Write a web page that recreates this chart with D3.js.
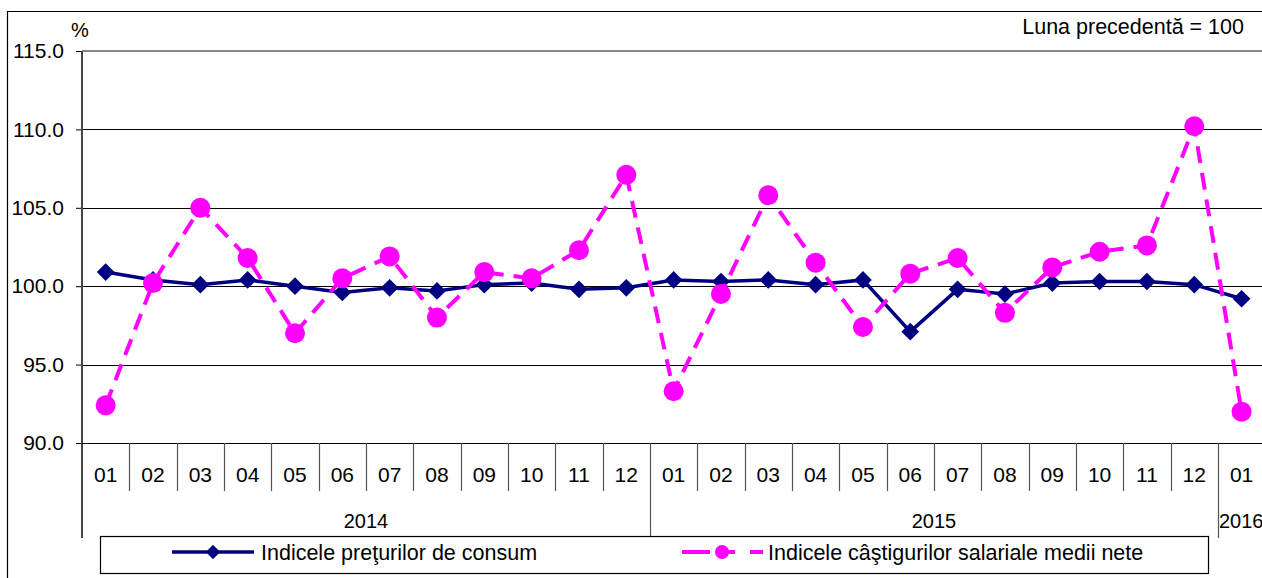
<!DOCTYPE html>
<html>
<head>
<meta charset="utf-8">
<script src="https://cdn.jsdelivr.net/npm/d3@7"></script>
<style>
  body { margin: 0; background: #fff; }
  svg { font-family: "Liberation Sans", Arial, sans-serif; }
</style>
</head>
<body>
<script>
// month labels, 2014-01 .. 2016-01
var months = ['01','02','03','04','05','06','07','08','09','10','11','12',
              '01','02','03','04','05','06','07','08','09','10','11','12','01'];
var years = [{label: '2014', start: 0, end: 12},
             {label: '2015', start: 12, end: 24},
             {label: '2016', start: 24, end: 25}];

// Indicele preturilor de consum
var cpi = [100.9, 100.4, 100.1, 100.4, 100.0, 99.6, 99.9, 99.7, 100.1, 100.2, 99.8, 99.9,
           100.4, 100.3, 100.4, 100.1, 100.4, 97.1, 99.8, 99.5, 100.2, 100.3, 100.3, 100.1, 99.2];
// Indicele castigurilor salariale medii nete
var wages = [92.4, 100.2, 105.0, 101.8, 97.0, 100.5, 101.9, 98.0, 100.9, 100.5, 102.3, 107.1,
             93.3, 99.5, 105.8, 101.5, 97.4, 100.8, 101.8, 98.3, 101.2, 102.2, 102.6, 110.2, 92.0];

var yTicks = [90, 95, 100, 105, 110, 115];

var w = 1262;
var h = 578;

var svg = d3.select('body')
            .append('svg')
            .attr('width', w)
            .attr('height', h);

// outer frame
svg.append('path')
   .attr('d', 'M7.5,' + h + ' V11.5 H' + w)
   .attr('fill', 'none')
   .attr('stroke', '#000')
   .attr('stroke-width', 1.2);

var plotLeft = 82, plotTop = 51, plotBottom = 443;
var step = 47.33;

var x = d3.scaleBand()
          .domain(d3.range(months.length))
          .range([plotLeft, plotLeft + step * months.length])
          .padding(0);

var y = d3.scaleLinear()
          .domain([90, 115])
          .range([plotBottom, plotTop]);

var cx = function(d, i) { return x(i) + x.bandwidth() / 2; };

// gridlines
svg.selectAll('.grid')
   .data(yTicks.filter(function(d) { return d > 90 && d < 115; }))
   .enter()
   .append('line')
   .attr('x1', plotLeft).attr('x2', w)
   .attr('y1', function(d) { return Math.round(y(d)) + 0.5; })
   .attr('y2', function(d) { return Math.round(y(d)) + 0.5; })
   .attr('stroke', '#000')
   .attr('stroke-width', 1);

// top of plot area (gray)
svg.append('line')
   .attr('x1', plotLeft).attr('x2', w)
   .attr('y1', y(115)).attr('y2', y(115))
   .attr('stroke', '#888')
   .attr('stroke-width', 2);

// y axis
var yAxis = d3.axisLeft(y)
              .tickValues(yTicks)
              .tickSize(6)
              .tickPadding(12)
              .tickFormat(d3.format('.1f'));

var gy = svg.append('g')
            .attr('transform', 'translate(' + plotLeft + ',0)')
            .call(yAxis);
gy.select('.domain').remove();
gy.selectAll('.tick line').attr('stroke', '#000');
gy.selectAll('.tick text')
  .attr('font-size', 21)
  .attr('fill', '#000')
  .attr('font-family', '"Liberation Sans", Arial, sans-serif');

// left axis line, extends down to year row
svg.append('line')
   .attr('x1', plotLeft).attr('x2', plotLeft)
   .attr('y1', plotTop).attr('y2', 538)
   .attr('stroke', '#444')
   .attr('stroke-width', 2);

// bottom axis line
svg.append('line')
   .attr('x1', plotLeft).attr('x2', w)
   .attr('y1', plotBottom + 0.5).attr('y2', plotBottom + 0.5)
   .attr('stroke', '#000')
   .attr('stroke-width', 1.2);

// month separators
svg.selectAll('.msep')
   .data(d3.range(1, months.length))
   .enter()
   .append('line')
   .attr('x1', function(d) { return Math.round(x(d)) + 0.5; })
   .attr('x2', function(d) { return Math.round(x(d)) + 0.5; })
   .attr('y1', plotBottom)
   .attr('y2', function(d) { return (d % 12 === 0) ? 538 : 491; })
   .attr('stroke', '#555')
   .attr('stroke-width', 1.2);

// month labels
svg.selectAll('.mlab')
   .data(months)
   .enter()
   .append('text')
   .attr('x', cx)
   .attr('y', 482)
   .attr('text-anchor', 'middle')
   .attr('font-size', 21)
   .text(function(d) { return d; });

// year labels
svg.selectAll('.ylab')
   .data(years)
   .enter()
   .append('text')
   .attr('x', function(d) {
     if (d.end - d.start === 1) return x(d.start) + 1;
     return (x(d.start) + x(d.end - 1) + x.bandwidth()) / 2;
   })
   .attr('y', 528)
   .attr('text-anchor', function(d) { return (d.end - d.start === 1) ? 'start' : 'middle'; })
   .attr('font-size', 20)
   .text(function(d) { return d.label; });

// CPI line
var line = d3.line()
             .x(cx)
             .y(function(d) { return y(d); });

svg.append('path')
   .datum(cpi)
   .attr('d', line)
   .attr('fill', 'none')
   .attr('stroke', '#000080')
   .attr('stroke-width', 3.5);

svg.selectAll('.diamond')
   .data(cpi)
   .enter()
   .append('path')
   .attr('d', d3.symbol().type(d3.symbolDiamond2).size(200))
   .attr('transform', function(d, i) {
     return 'translate(' + cx(d, i) + ',' + y(d) + ')';
   })
   .attr('fill', '#000080');

// wages line
svg.append('path')
   .datum(wages)
   .attr('d', line)
   .attr('fill', 'none')
   .attr('stroke', '#FF00FF')
   .attr('stroke-width', 4)
   .attr('stroke-dasharray', '17,10');

svg.selectAll('.dot')
   .data(wages)
   .enter()
   .append('circle')
   .attr('cx', cx)
   .attr('cy', function(d) { return y(d); })
   .attr('r', 10)
   .attr('fill', '#FF00FF');

// labels
svg.append('text')
   .attr('x', 71).attr('y', 37)
   .attr('font-size', 20)
   .text('%');

svg.append('text')
   .attr('x', 1244).attr('y', 34)
   .attr('text-anchor', 'end')
   .attr('font-size', 21.5)
   .text('Luna precedentă = 100');

// legend
svg.append('rect')
   .attr('x', 100.5).attr('y', 536.5)
   .attr('width', 1108).attr('height', 37)
   .attr('fill', '#fff')
   .attr('stroke', '#000')
   .attr('stroke-width', 1.2);

var ly = 552;
svg.append('line')
   .attr('x1', 172).attr('x2', 254)
   .attr('y1', ly).attr('y2', ly)
   .attr('stroke', '#000080')
   .attr('stroke-width', 3.5);
svg.append('path')
   .attr('d', d3.symbol().type(d3.symbolDiamond2).size(130))
   .attr('transform', 'translate(213,' + ly + ')')
   .attr('fill', '#000080');
svg.append('text')
   .attr('x', 261).attr('y', ly + 8)
   .attr('font-size', 21.5)
   .text('Indicele preţurilor de consum');

svg.append('line')
   .attr('x1', 682).attr('x2', 763)
   .attr('y1', ly).attr('y2', ly)
   .attr('stroke', '#FF00FF')
   .attr('stroke-width', 4)
   .attr('stroke-dasharray', '28,12,13,15,13');
svg.append('circle')
   .attr('cx', 722).attr('cy', ly)
   .attr('r', 7)
   .attr('fill', '#FF00FF');
svg.append('text')
   .attr('x', 768).attr('y', ly + 8)
   .attr('font-size', 21.5)
   .text('Indicele câştigurilor salariale medii nete');
</script>
</body>
</html>
